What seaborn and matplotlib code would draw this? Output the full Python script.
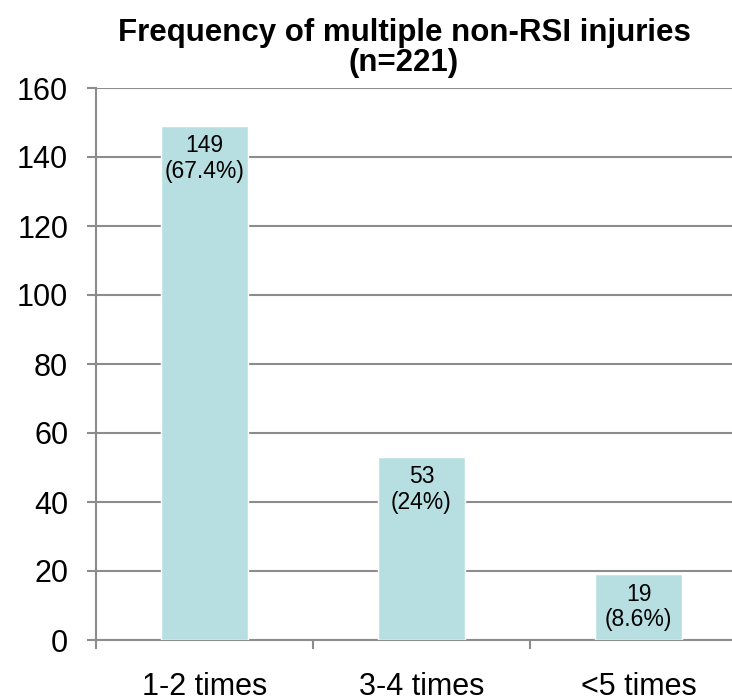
import matplotlib
matplotlib.use("Agg")
import matplotlib.pyplot as plt
import seaborn as sns
import pandas as pd
from matplotlib.ticker import FixedLocator

categories = ["1-2 times", "3-4 times", "<5 times"]
counts = [149, 53, 19]
percent_labels = ["67.4%", "24%", "8.6%"]
title_text = "Frequency of multiple non-RSI injuries\n(n=221)"
y_ticks = [0, 20, 40, 60, 80, 100, 120, 140, 160]

sns.set_style("white")
plt.rcParams["font.family"] = ["Liberation Sans", "DejaVu Sans"]

df = pd.DataFrame({"category": categories, "count": counts})

fig = plt.figure(figsize=(7.32, 7.00), dpi=100)
ax = fig.add_axes([96 / 732, 60 / 700, 651 / 732, 552 / 700])

grid_color = "#8c8c8c"
bar_color = "#b7dfe1"

sns.barplot(data=df, x="category", y="count", color=bar_color, width=0.4,
            saturation=1, ax=ax, zorder=3)

ax.set_xlim(-0.5, 2.5)
ax.set_ylim(0, 160)
ax.set_yticks(y_ticks)
ax.yaxis.grid(True, color=grid_color, linewidth=1.5)
ax.set_axisbelow(True)
ax.set_xlabel("")
ax.set_ylabel("")

for side in ["top", "right"]:
    ax.spines[side].set_visible(False)
for side in ["left", "bottom"]:
    ax.spines[side].set_color(grid_color)
    ax.spines[side].set_linewidth(1.5)

ax.tick_params(axis="y", which="major", direction="out", length=6.5, width=1.5,
               color=grid_color, labelsize=22, pad=13.5, left=True, labelcolor="black")
ax.tick_params(axis="x", which="major", length=0, labelsize=22, pad=23, labelcolor="black")
ax.xaxis.set_minor_locator(FixedLocator([-0.5, 0.5, 1.5, 2.5]))
ax.tick_params(axis="x", which="minor", direction="out", length=6.5, width=1.5,
               color=grid_color, bottom=True)

for i, (c, p) in enumerate(zip(counts, percent_labels)):
    ax.annotate(f"{c}\n({p})", xy=(i, c), xytext=(0, -6), textcoords="offset points",
                ha="center", va="top", fontsize=16.5, linespacing=1.15, color="black",
                zorder=4)

fig.text(404 / 732, 1 - 18 / 700, title_text, ha="center", va="top",
         fontsize=22.5, fontweight="bold", linespacing=1.0, color="black")

fig.savefig("out.png", dpi=100)
